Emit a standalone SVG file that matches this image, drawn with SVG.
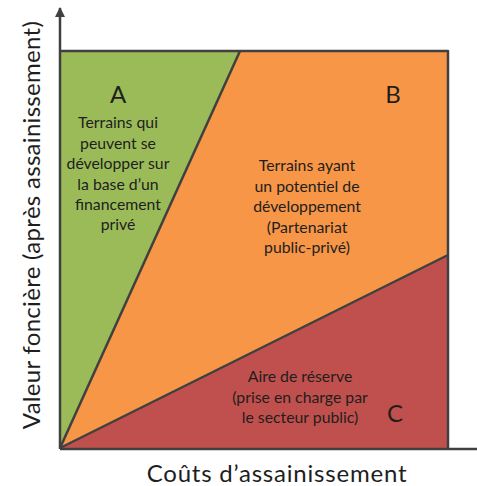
<svg xmlns="http://www.w3.org/2000/svg" width="477" height="486" viewBox="0 0 477 486">
<style>
.t{font-family:Lato,"Liberation Sans",sans-serif;fill:#1e1e1e;text-anchor:middle}
.s{font-size:15.8px}
.L{font-size:24px}
.ax{font-size:24px}
.edge{stroke:#404040;stroke-width:2.5;fill:none;stroke-linejoin:round}
</style>
<defs>
<marker id="arr" viewBox="0 0 10 10" refX="9" refY="5" markerWidth="4" markerHeight="4" orient="auto" markerUnits="strokeWidth">
<path d="M0,0 L10,5 L0,10 z" fill="#404040"/>
</marker>
</defs>
<rect width="477" height="486" fill="#ffffff"/>
<g id="zoneA">
<polygon points="60,51 240,51 60,448" fill="#9BBB59"/>
<text class="t L" x="118" y="103">A</text>
<text class="t s"><tspan x="118" y="128">Terrains qui</tspan><tspan x="118" y="148.5">peuvent se</tspan><tspan x="118" y="169">développer sur</tspan><tspan x="118" y="189.5">la base d’un</tspan><tspan x="118" y="210">financement</tspan><tspan x="118" y="230">privé</tspan></text>
</g>
<g id="zoneB">
<polygon points="240,51 448,51 448,255 60,448" fill="#F79646"/>
<text class="t L" x="393" y="103">B</text>
<text class="t s"><tspan x="307" y="171">Terrains ayant</tspan><tspan x="307" y="191.5">un potentiel de</tspan><tspan x="307" y="212">développement</tspan><tspan x="307" y="232.5">(Partenariat</tspan><tspan x="307" y="253">public-privé)</tspan></text>
</g>
<g id="zoneC">
<polygon points="60,448 448,255 448,448" fill="#C0504D"/>
<text class="t L" x="395" y="422">C</text>
<text class="t s"><tspan x="300" y="382">Aire de réserve</tspan><tspan x="300" y="402.5">(prise en charge par</tspan><tspan x="300" y="423">le secteur public)</tspan></text>
</g>
<g id="connectors">
<polyline class="edge" points="60,51 448,51 448,448"/>
<line class="edge" x1="60" y1="448" x2="240" y2="51"/>
<line class="edge" x1="60" y1="448" x2="448" y2="255"/>
<line class="edge" x1="60" y1="449" x2="477" y2="449"/>
<line class="edge" x1="60" y1="449" x2="60" y2="8" marker-end="url(#arr)"/>
</g>
<g id="labels">
<text class="t ax" x="277" y="482" letter-spacing="0.8">Coûts d’assainissement</text>
<text class="t ax" transform="translate(40,225) rotate(-90)" x="0" y="0" letter-spacing="0.3">Valeur foncière (après assainissement)</text>
</g>
</svg>
